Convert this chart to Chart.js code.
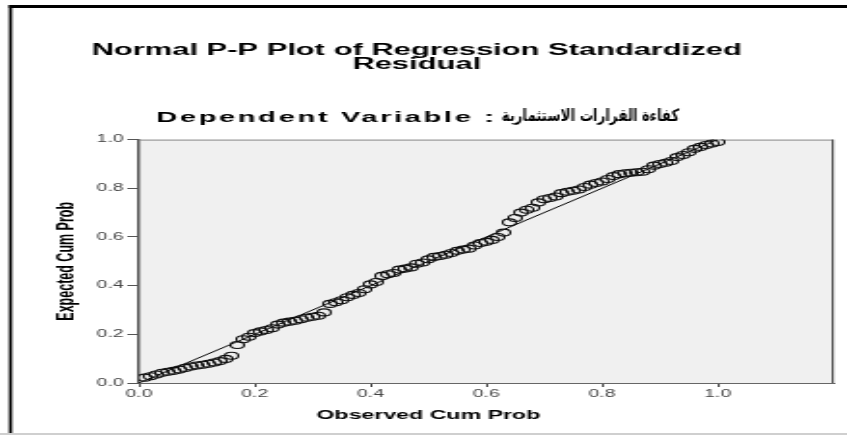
<!DOCTYPE html>
<html><head><meta charset="utf-8">
<script src="https://cdn.jsdelivr.net/npm/chart.js@4/dist/chart.umd.min.js"></script>
<style>html,body{margin:0;padding:0;background:#fff;overflow:hidden}</style>
</head><body>
<canvas id="c" width="439" height="435" style="display:block;width:847px;height:435px"></canvas>
<script>
const titleLines = ['Normal P-P Plot of Regression Standardized', 'Residual'];
const subtitleLatin = 'Dependent Variable :';
const subtitleArabic = 'كفاءة القرارات الاستثمارية';
const xAxisTitle = 'Observed Cum Prob';
const yAxisTitle = 'Expected Cum Prob';
const xTicks = [0, 0.2, 0.4, 0.6, 0.8, 1.0];
const yTicks = [0, 0.2, 0.4, 0.6, 0.8, 1.0];
const refLineX = [0, 1];
const refLineY = [0, 1];
const observedCumProb = [
 0.01,0.02,0.03,0.04,0.05,0.06,0.07,0.08,0.09,0.10,
 0.11,0.12,0.13,0.14,0.15,0.16,0.17,0.18,0.19,0.20,
 0.21,0.22,0.23,0.24,0.25,0.26,0.27,0.28,0.29,0.30,
 0.31,0.32,0.33,0.34,0.35,0.36,0.37,0.38,0.39,0.40,
 0.41,0.42,0.43,0.44,0.45,0.46,0.47,0.48,0.49,0.50,
 0.51,0.52,0.53,0.54,0.55,0.56,0.57,0.58,0.59,0.60,
 0.61,0.62,0.63,0.64,0.65,0.66,0.67,0.68,0.69,0.70,
 0.71,0.72,0.73,0.74,0.75,0.76,0.77,0.78,0.79,0.80,
 0.81,0.82,0.83,0.84,0.85,0.86,0.87,0.88,0.89,0.90,
 0.91,0.92,0.93,0.94,0.95,0.96,0.97,0.98,0.99,1.00
];
const expectedCumProb = [
 0.022,0.028,0.035,0.042,0.046,0.050,0.055,0.062,0.068,0.072,
 0.075,0.079,0.084,0.090,0.099,0.112,0.156,0.180,0.190,0.205,
 0.212,0.218,0.225,0.240,0.248,0.252,0.256,0.262,0.268,0.272,
 0.276,0.290,0.325,0.332,0.340,0.352,0.362,0.370,0.385,0.405,
 0.415,0.440,0.447,0.452,0.466,0.470,0.475,0.490,0.495,0.508,
 0.518,0.522,0.527,0.534,0.543,0.548,0.552,0.565,0.575,0.580,
 0.588,0.600,0.618,0.660,0.678,0.700,0.712,0.720,0.742,0.755,
 0.760,0.766,0.780,0.786,0.790,0.795,0.805,0.815,0.822,0.828,
 0.838,0.850,0.858,0.862,0.864,0.866,0.868,0.878,0.893,0.900,
 0.905,0.912,0.928,0.937,0.948,0.962,0.970,0.978,0.984,0.990
];

const FONT = '"Liberation Sans", Arial, sans-serif';

const framePlugin = {
  id: 'frame',
  beforeDraw(chart) {
    const c = chart.ctx, a = chart.chartArea;
    c.save();
    c.fillStyle = '#fff';
    c.fillRect(0, 0, chart.width, chart.height);
    c.fillStyle = '#000';
    c.fillRect(4.6, 5, 1.7, 429);
    c.fillRect(4.6, 5, chart.width, 3);
    c.fillStyle = '#cfcfcf';
    c.fillRect(0, 433, chart.width, 2);
    c.fillStyle = '#f0f0f0';
    c.fillRect(a.left, a.top, a.right - a.left, a.bottom - a.top);
    c.restore();
  },
  beforeDatasetsDraw(chart) {
    const c = chart.ctx, a = chart.chartArea;
    c.save();
    c.fillStyle = '#8a8a8a';
    c.fillRect(a.left, a.top, a.right - a.left, 1);
    c.fillStyle = '#555';
    c.fillRect(a.right - 1, a.top, 1.2, a.bottom - a.top);
    c.restore();
  },
  afterDraw(chart) {
    const c = chart.ctx;
    c.save();
    c.fillStyle = '#000';
    c.textBaseline = 'middle';
    c.font = 'bold 15px ' + FONT;
    c.letterSpacing = '1.4px';
    c.textAlign = 'left';
    c.fillText(subtitleLatin, 81, 118);
    c.letterSpacing = '0px';
    // Arabic part, fitted into its span of the line
    c.font = 'bold 17px "DejaVu Sans", sans-serif';
    c.direction = 'rtl';
    c.textAlign = 'right';
    const arW = c.measureText(subtitleArabic).width;
    const targetW = 92;
    c.save();
    c.translate(352, 117);
    c.scale(targetW / arW, 1);
    c.fillText(subtitleArabic, 0, 0);
    c.restore();
    c.direction = 'ltr';
    c.font = 'bold 12px ' + FONT;
    c.textAlign = 'center';
    c.fillText(xAxisTitle, chart.scales.x.getPixelForValue(0.5), 416);
    c.restore();
  }
};

new Chart(document.getElementById('c'), {
  type: 'scatter',
  data: {
    datasets: [
      {
        type: 'line',
        data: refLineX.map((x, i) => ({x, y: refLineY[i]})),
        borderColor: '#000', borderWidth: 1, pointRadius: 0, fill: false, order: 2
      },
      {
        data: observedCumProb.map((x, i) => ({x, y: expectedCumProb[i]})),
        pointRadius: 3.5, pointBorderWidth: 1.1,
        pointBorderColor: '#111', pointBackgroundColor: 'rgba(0,0,0,0)',
        showLine: false, order: 1
      }
    ]
  },
  options: {
    responsive: false, animation: false, devicePixelRatio: 1,
    layout: {padding: {left: 0, right: 7, top: 0, bottom: 0}},
    plugins: {
      legend: {display: false},
      tooltip: {enabled: false},
      title: {
        display: true, text: titleLines, color: '#000',
        font: {family: FONT, size: 16, weight: 'bold', lineHeight: 0.9},
        padding: {top: 43, bottom: 67.8}
      }
    },
    scales: {
      x: {
        type: 'linear', min: 0, max: 1.2,
        afterBuildTicks: s => { s.ticks = xTicks.map(v => ({value: v})); },
        afterFit: s => { s.height = 52; },
        ticks: {color: '#444', font: {family: FONT, size: 10}, padding: 1, maxRotation: 0,
                callback: v => Number(v).toFixed(1)},
        grid: {drawOnChartArea: false, drawTicks: true, tickLength: 4, color: '#444', lineWidth: 1},
        border: {display: true, color: '#666', width: 1}
      },
      y: {
        type: 'linear', min: 0, max: 1,
        afterBuildTicks: s => { s.ticks = yTicks.map(v => ({value: v})); },
        afterFit: s => { s.width = 72; },
        ticks: {color: '#444', font: {family: FONT, size: 10}, padding: 2,
                callback: v => Number(v).toFixed(1)},
        grid: {drawOnChartArea: false, drawTicks: true, tickLength: 6, color: '#555', lineWidth: 1},
        border: {display: true, color: '#555', width: 1.5},
        title: {display: true, text: yAxisTitle, color: '#000',
                font: {family: FONT, size: 12.5, weight: 'bold'}, padding: {top: 27.5, bottom: 0}}
      }
    }
  },
  plugins: [framePlugin]
});
</script>
</body></html>
